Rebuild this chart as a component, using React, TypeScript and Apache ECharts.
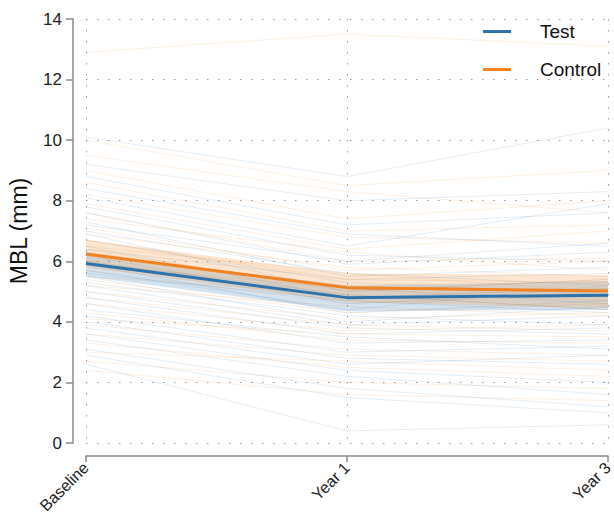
import React, { useEffect, useRef } from "react";
import * as echarts from "echarts";

const categories = ["Baseline", "Year 1", "Year 3"];

// individual trajectories [Baseline, Year 1, Year 3]
const testLines: number[][] = [
  [10.1, 8.8, 10.4],
  [9.2, 8.0, 8.3],
  [8.8, 7.2, 7.6],
  [8.4, 6.9, 6.5],
  [8.1, 6.5, 7.9],
  [7.8, 6.2, 6.0],
  [7.6, 5.9, 6.3],
  [7.3, 5.5, 5.8],
  [7.2, 6.0, 6.6],
  [7.0, 5.6, 5.2],
  [6.9, 5.0, 5.4],
  [6.7, 5.3, 4.9],
  [6.5, 4.8, 5.1],
  [6.4, 5.4, 5.6],
  [6.3, 5.1, 4.6],
  [6.2, 4.6, 5.0],
  [6.0, 4.9, 4.4],
  [5.9, 4.3, 4.7],
  [5.7, 4.4, 5.2],
  [5.6, 4.7, 4.3],
  [5.5, 4.0, 4.5],
  [5.3, 4.2, 3.9],
  [5.2, 3.9, 4.2],
  [5.0, 3.8, 3.6],
  [4.8, 3.6, 3.8],
  [4.6, 3.3, 3.4],
  [4.4, 3.5, 3.1],
  [4.2, 3.0, 3.2],
  [4.0, 2.8, 2.6],
  [3.8, 2.6, 2.9],
  [3.6, 2.4, 2.0],
  [3.4, 2.2, 1.6],
  [3.1, 1.8, 1.2],
  [2.9, 1.5, 1.0],
  [2.6, 0.4, 0.6],
];

const controlLines: number[][] = [
  [12.9, 13.5, 13.1],
  [10.0, 8.5, 9.0],
  [9.5, 8.3, 7.6],
  [9.0, 7.4, 8.0],
  [8.6, 7.0, 7.2],
  [8.2, 6.8, 6.6],
  [7.9, 6.4, 7.0],
  [7.6, 6.0, 6.1],
  [7.4, 6.3, 5.7],
  [7.1, 5.7, 6.0],
  [6.9, 5.8, 5.5],
  [6.7, 5.4, 5.3],
  [6.5, 5.6, 5.0],
  [6.4, 5.0, 5.4],
  [6.2, 5.2, 4.8],
  [6.0, 4.8, 5.1],
  [5.9, 5.1, 4.7],
  [5.7, 4.6, 4.9],
  [5.5, 4.9, 4.4],
  [5.4, 4.3, 4.6],
  [5.2, 4.5, 4.2],
  [5.0, 4.1, 4.3],
  [4.8, 3.9, 3.7],
  [4.6, 3.7, 3.9],
  [4.3, 3.4, 3.3],
  [4.1, 3.6, 3.5],
  [3.9, 3.1, 2.9],
  [3.6, 2.9, 2.7],
  [3.3, 2.5, 2.2],
  [3.0, 2.7, 2.4],
  [2.7, 2.0, 1.8],
  [2.4, 1.6, 1.4],
];

const testMean = [5.93, 4.8, 4.88];
const controlMean = [6.24, 5.13, 5.02];
const testLower = [5.5, 4.35, 4.4];
const testUpper = [6.25, 5.2, 5.35];
const controlLower = [5.8, 4.65, 4.45];
const controlUpper = [6.7, 5.6, 5.55];

const BLUE = "#2c73ad";
const ORANGE = "#f2821f";
const FONT = "Liberation Sans, Arial, Helvetica, sans-serif";

export default function App() {
  const ref = useRef<HTMLDivElement>(null);
  useEffect(() => {
    if (!ref.current) return;
    const chart = echarts.init(ref.current, null, { renderer: "svg" });

    const indiv = (lines: number[][], color: string, prefix: string) =>
      lines.map((d, i) => ({
        name: `${prefix}${i}`,
        type: "line",
        data: d,
        symbol: "none",
        silent: true,
        lineStyle: { color, width: 1, opacity: 0.13 },
        z: 1,
      }));

    const band = (lower: number[], upper: number[], stack: string, rgba: string) => [
      {
        name: stack + "-lo",
        type: "line",
        data: lower,
        stack,
        symbol: "none",
        silent: true,
        lineStyle: { opacity: 0 },
        z: 2,
      },
      {
        name: stack + "-hi",
        type: "line",
        data: upper.map((u, i) => +(u - lower[i]).toFixed(3)),
        stack,
        symbol: "none",
        silent: true,
        lineStyle: { opacity: 0 },
        areaStyle: { color: rgba, opacity: 1 },
        z: 2,
      },
    ];

    chart.setOption({
      animation: false,
      textStyle: { fontFamily: FONT },
      grid: { left: 86, right: 6, top: 19, bottom: 71, outerBoundsMode: "none" },
      legend: {
        data: ["Test", "Control"],
        orient: "vertical",
        left: 483,
        top: 22,
        padding: 0,
        icon: "rect",
        itemWidth: 28,
        itemHeight: 3,
        itemGap: 19,
        textStyle: { fontSize: 19, color: "#111", padding: [0, 0, 0, 24], fontFamily: FONT },
      },
      xAxis: {
        type: "category",
        data: categories,
        boundaryGap: false,
        offset: 13,
        axisLine: { show: true, onZero: false, lineStyle: { color: "#8a8a8a", width: 1.5 } },
        axisTick: { show: true, alignWithLabel: true, length: 6, lineStyle: { color: "#8a8a8a", width: 1.5 } },
        axisLabel: { rotate: 45, fontSize: 16, color: "#222", margin: 9, fontFamily: FONT },
        splitLine: { show: true, lineStyle: { color: "#9a9a9a", type: [1.5, 9.5], width: 1 } },
      },
      yAxis: {
        type: "value",
        min: 0,
        max: 14,
        interval: 2,
        offset: 13,
        name: "MBL (mm)",
        nameLocation: "middle",
        nameGap: 43,
        nameTextStyle: { fontSize: 23, color: "#111", fontFamily: FONT },
        axisLine: { show: true, onZero: false, lineStyle: { color: "#8a8a8a", width: 1.5 } },
        axisTick: { show: true, length: 7, lineStyle: { color: "#8a8a8a", width: 1.5 } },
        axisLabel: { fontSize: 17, color: "#222", margin: 11, fontFamily: FONT },
        splitLine: { show: true, lineStyle: { color: "#9a9a9a", type: [1.5, 9.5], width: 1 } },
      },
      series: [
        ...indiv(testLines, BLUE, "t"),
        ...indiv(controlLines, ORANGE, "c"),
        ...band(testLower, testUpper, "testBand", "rgba(44,115,173,0.2)"),
        ...band(controlLower, controlUpper, "ctrlBand", "rgba(242,130,31,0.2)"),
        {
          name: "Control",
          type: "line",
          data: controlMean,
          symbol: "none",
          color: ORANGE,
          lineStyle: { color: ORANGE, width: 3 },
          z: 4,
        },
        {
          name: "Test",
          type: "line",
          data: testMean,
          symbol: "none",
          color: BLUE,
          lineStyle: { color: BLUE, width: 3 },
          z: 5,
        },
      ],
    });
    return () => chart.dispose();
  }, []);

  return (
    <div
      ref={ref}
      style={{ position: "absolute", left: 0, top: 0, width: 614, height: 514, background: "#fff" }}
    />
  );
}
